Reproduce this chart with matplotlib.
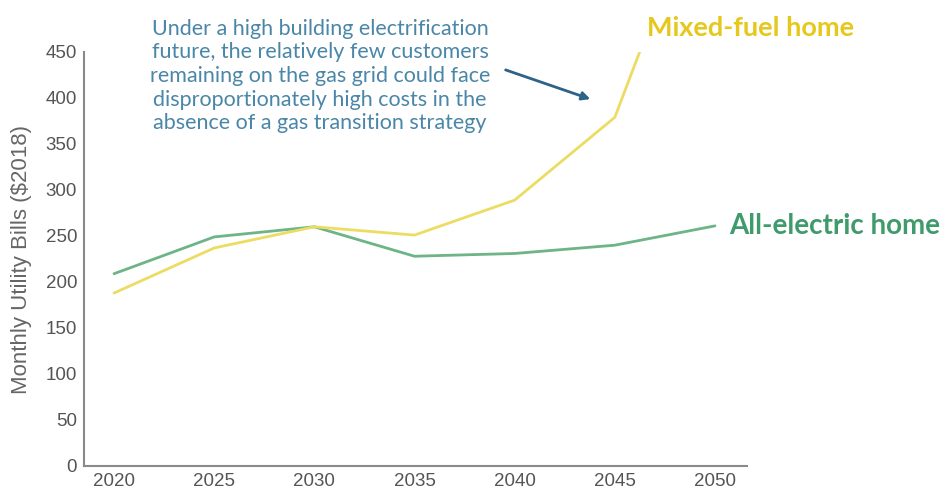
import matplotlib
matplotlib.use("Agg")
import matplotlib.pyplot as plt

years = [2020, 2025, 2030, 2035, 2040, 2045, 2050]
all_electric = [209, 249, 260, 228, 231, 240, 261]
mixed_fuel = [188, 237, 260, 251, 289, 379, 665]
yticks = [0, 50, 100, 150, 200, 250, 300, 350, 400, 450]

fig = plt.figure(figsize=(9.41, 4.91), dpi=100)
ax_left, ax_w = 84/941, (747-84)/941
ax = fig.add_axes([ax_left, 1-466/491, ax_w, 414/491])

ax.plot(years, all_electric, color="#6db487", lw=2.0, solid_capstyle="round", zorder=3)
ax.plot(years, mixed_fuel, color="#eddc62", lw=2.0, solid_capstyle="round", zorder=4)

ax.set_xlim(2018.5, 2051.6)
ax.set_ylim(0, 450)
ax.set_xticks(years)
ax.set_yticks(yticks)
ax.tick_params(length=0, labelsize=13.5, labelcolor="#555555", pad=5)
for lab in ax.get_xticklabels() + ax.get_yticklabels():
    lab.set_family("Liberation Sans")
for s in ["top", "right"]:
    ax.spines[s].set_visible(False)
for s in ["left", "bottom"]:
    ax.spines[s].set_color("#8a8a8a")
    ax.spines[s].set_linewidth(1.5)

ax.set_ylabel("Monthly Utility Bills ($2018)", fontsize=16, color="#666666",
              family="Liberation Sans")
ax.yaxis.set_label_coords((32/941 - ax_left) / ax_w, (466-259)/414)

fig.text(751/941, 1-28/491, "Mixed-fuel home", fontsize=19.5, fontweight="bold",
         color="#e6c81c", family="Lato", ha="center", va="center")
fig.text(835/941, 1-226/491, "All-electric home", fontsize=20, fontweight="bold",
         color="#3f9a6c", family="Lato", ha="center", va="center")

note = ("Under a high building electrification\n"
        "future, the relatively few customers\n"
        "remaining on the gas grid could face\n"
        "disproportionately high costs in the\n"
        "absence of a gas transition strategy")
fig.text(320/941, 1-76/491, note, fontsize=15.5, color="#4a86a8", family="Lato",
         ha="center", va="center", linespacing=1.22)

ax.annotate("", xy=(593/941, 1-100/491), xytext=(503/941, 1-69/491),
            xycoords="figure fraction", textcoords="figure fraction",
            arrowprops=dict(arrowstyle="-|>", color="#2d6289", lw=2,
                            mutation_scale=12), annotation_clip=False)

fig.savefig("out.png", dpi=100)
